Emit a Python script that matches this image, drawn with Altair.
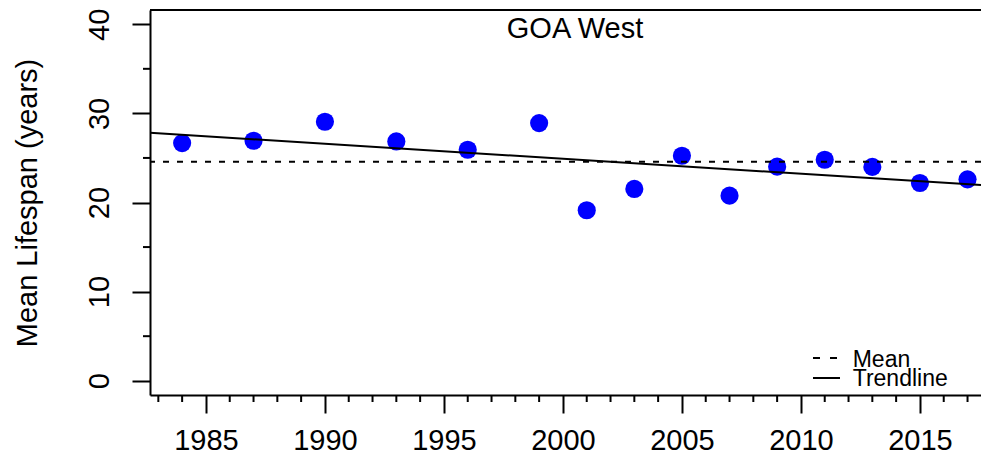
import altair as alt
import pandas as pd

# ---- data ----
years = [1984, 1987, 1990, 1993, 1996, 1999, 2001, 2003, 2005, 2007, 2009, 2011, 2013, 2015, 2017]
lifespan = [26.67, 26.93, 29.06, 26.85, 25.92, 28.91, 19.13, 21.52, 25.25, 20.77, 24.02, 24.80, 23.99, 22.19, 22.60]
x_major = [1985, 1990, 1995, 2000, 2005, 2010, 2015]
x_minor = [y for y in range(1983, 2018) if y % 5 != 0]
y_major = [0, 10, 20, 30, 40]
y_minor = [5, 15, 25, 35]
panel_title = "GOA West"
y_title = "Mean Lifespan (years)"
legend_labels = ["Mean", "Trendline"]

PX_PER_YEAR = 23.8
W, H = 831, 385
X_DOMAIN = [1982.65, 1982.65 + W / PX_PER_YEAR]
Y_DOMAIN = [-1.6, 41.6]
FONT = "Liberation Sans"

df = pd.DataFrame({"year": years, "lifespan": lifespan})
xs = alt.Scale(domain=X_DOMAIN, nice=False, zero=False)
ys = alt.Scale(domain=Y_DOMAIN, nice=False, zero=False)

base = alt.Chart(df)

x_axis = alt.Axis(
    values=x_major, format="d", tickSize=18, tickWidth=2, tickColor="black",
    domainWidth=2, domainColor="black", labelFontSize=29, labelFont=FONT,
    labelColor="black", labelPadding=36, labelBaseline="alphabetic",
    labelFlush=False, labelOverlap=False, grid=False, title=None,
)
y_axis = alt.Axis(
    values=y_major, format="d", tickSize=18, tickWidth=2, tickColor="black",
    domainWidth=2, domainColor="black", labelAngle=270, labelAlign="center",
    labelBaseline="alphabetic", labelPadding=24, labelFontSize=29, labelFont=FONT,
    labelColor="black", labelFlush=False, labelOverlap=False, grid=False,
    title=y_title, titleFontSize=29, titleFont=FONT, titleFontWeight="normal",
    titleColor="black", titleX=-114, titleY=H / 2, titleAngle=270,
    titleAlign="center", titleBaseline="alphabetic",
)

points = base.mark_circle(size=330, color="#0000FF", opacity=1).encode(
    x=alt.X("year:Q", scale=xs, axis=x_axis),
    y=alt.Y("lifespan:Q", scale=ys, axis=y_axis),
)

trend = base.transform_regression(
    "year", "lifespan", extent=X_DOMAIN
).mark_line(color="black", strokeWidth=2).encode(
    x=alt.X("year:Q", scale=xs),
    y=alt.Y("lifespan:Q", scale=ys),
)

mean_rule = base.mark_rule(color="black", strokeWidth=2, strokeDash=[6, 8]).encode(
    y=alt.Y("mean(lifespan):Q", scale=ys),
)

x_minor_ticks = alt.Chart(pd.DataFrame({"year": x_minor})).mark_rule(
    color="black", strokeWidth=2
).encode(
    x=alt.X("year:Q", scale=xs),
    y=alt.value(H), y2=alt.value(H + 7),
)

y_minor_ticks = alt.Chart(pd.DataFrame({"lifespan": y_minor})).mark_rule(
    color="black", strokeWidth=2
).encode(
    y=alt.Y("lifespan:Q", scale=ys),
    x=alt.value(0), x2=alt.value(-7),
)

one = alt.Data(values=[{}])
top_border = alt.Chart(one).mark_rule(color="black", strokeWidth=2).encode(
    x=alt.value(0), x2=alt.value(W), y=alt.value(0),
)

title_text = alt.Chart(one).mark_text(
    text=panel_title, fontSize=29, font=FONT, align="center",
    baseline="alphabetic", color="black",
).encode(x=alt.value(425), y=alt.value(28.3))

leg_mean_line = alt.Chart(one).mark_rule(
    color="black", strokeWidth=2, strokeDash=[7, 10]
).encode(x=alt.value(663), x2=alt.value(690), y=alt.value(348))
leg_trend_line = alt.Chart(one).mark_rule(color="black", strokeWidth=2).encode(
    x=alt.value(663), x2=alt.value(690), y=alt.value(368)
)
leg_mean_text = alt.Chart(one).mark_text(
    text=legend_labels[0], fontSize=23, font=FONT, align="left",
    baseline="alphabetic", color="black",
).encode(x=alt.value(702.7), y=alt.value(356.7))
leg_trend_text = alt.Chart(one).mark_text(
    text=legend_labels[1], fontSize=23, font=FONT, align="left",
    baseline="alphabetic", color="black",
).encode(x=alt.value(702.7), y=alt.value(376))

chart = alt.layer(
    points, trend, mean_rule, x_minor_ticks, y_minor_ticks, top_border,
    title_text, leg_mean_line, leg_trend_line, leg_mean_text, leg_trend_text,
).properties(
    width=W, height=H,
    autosize=alt.AutoSizeParams(type="none"),
    padding={"left": 142, "top": 2, "right": 0, "bottom": 60},
).configure_view(stroke=None)

chart.save("out.html", embed_options={"renderer": "svg", "actions": False})
